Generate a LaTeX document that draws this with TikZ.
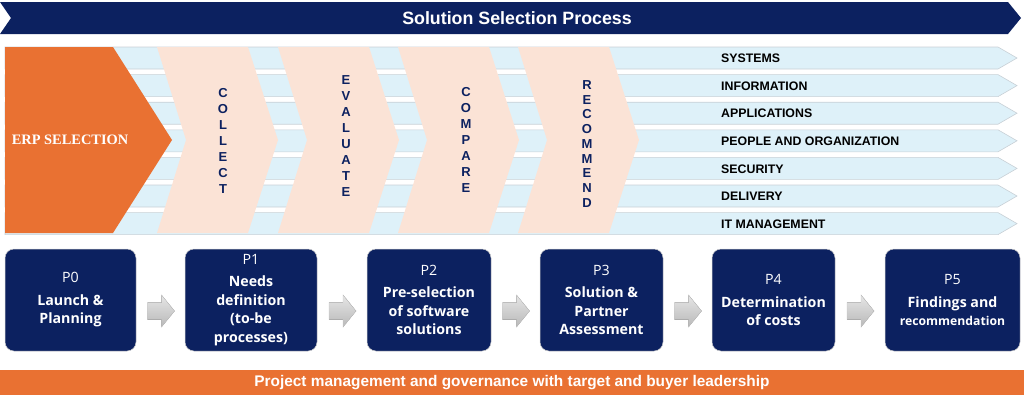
\documentclass[tikz,border=0pt]{standalone}
\usepackage{fontspec}
\setmainfont{Liberation Sans}
\newfontfamily\erpfont{Liberation Serif}
\newfontfamily\boxfont{Open Sans}
\usetikzlibrary{calc}
\definecolor{navy}{RGB}{12,33,96}
\definecolor{erporange}{RGB}{233,113,50}
\definecolor{peach}{RGB}{251,227,214}
\definecolor{stripblue}{RGB}{222,241,249}
\definecolor{stripline}{RGB}{200,208,214}
\tikzset{
  strip/.style={fill=stripblue, draw=stripline, line width=0.6pt},
  striplab/.style={anchor=west, inner sep=0pt, font=\fontsize{12.35}{14}\selectfont\bfseries, text=black},
  chev/.style={fill=peach},
  vword/.style={align=center, inner sep=0pt, text=navy, font=\fontsize{13}{16}\selectfont\bfseries},
  pbox/.style={fill=navy, draw=gray!40, line width=0.5pt, rounded corners=9pt, text=white, align=center,
    minimum height=102pt, inner sep=2pt, font=\boxfont\fontsize{14.2}{18.5}\selectfont},
  garrow/.pic={\fill[top color=gray!20, bottom color=gray!55, draw=gray!45, line width=0.4pt]
     (-13.5,-8.5) -- (0.5,-8.5) -- (0.5,-16) -- (13.5,0) -- (0.5,16) -- (0.5,8.5) -- (-13.5,8.5) -- cycle;}
}
\begin{document}
\begin{tikzpicture}[x=1pt,y=-1pt]
\useasboundingbox (0,0) rectangle (1024,402);
% title banner
\fill[navy] (0,2) -- (1008,2) -- (1021,18) -- (1008,34) -- (0,34) -- (11,18) -- cycle;
\node[text=white, font=\fontsize{17.8}{20}\selectfont\bfseries] (title) at (517,18) {Solution Selection Process};
% strips
\foreach \i/\lab in {0/SYSTEMS,1/INFORMATION,2/APPLICATIONS,3/PEOPLE AND ORGANIZATION,4/SECURITY,5/DELIVERY,6/IT MANAGEMENT}{
  \pgfmathsetmacro\yt{47+27.6*\i}
  \draw[strip] (5,\yt) -- (998,\yt) -- (1017,{\yt+11}) -- (998,{\yt+22}) -- (5,{\yt+22}) -- cycle;
  \node[striplab] (s\i) at (721,{\yt+11.5}) {\lab};
}
% ERP selection
\fill[erporange] (5,47) -- (113,47) -- (172,140) -- (113,233) -- (5,233) -- cycle;
\node[text=white, font=\erpfont\bfseries\fontsize{14.4}{18}\selectfont] (erp) at (70,140) {ERP SELECTION};
% chevrons
\foreach \x in {157,278,398,518}{
  \fill[chev] (\x,47) -- ({\x+91},47) -- ({\x+121},140) -- ({\x+91},233) -- (\x,233) -- ({\x+29},140) -- cycle;
}
\node[vword] (collect) at (223,140.5) {C\\O\\L\\L\\E\\C\\T};
\node[vword] (evaluate) at (346,136.5) {E\\V\\A\\L\\U\\A\\T\\E};
\node[vword] (compare) at (466,140) {C\\O\\M\\P\\A\\R\\E};
\node[vword, font=\fontsize{13}{14.75}\selectfont\bfseries] (recommend) at (587,144) {R\\E\\C\\O\\M\\M\\E\\N\\D};
% phase boxes
\node[pbox, minimum width=131pt] (p0) at (70.5,300) {P0\\[4pt]\textbf{Launch \&}\\\textbf{Planning}};
\node[pbox, minimum width=132pt] (p1) at (251,300) {P1\\[4pt]\textbf{Needs}\\\textbf{definition}\\\textbf{(to-be}\\\textbf{processes)}};
\node[pbox, minimum width=124pt] (p2) at (429,300) {P2\\[4pt]\textbf{Pre-selection}\\\textbf{of software}\\\textbf{solutions}};
\node[pbox, minimum width=123pt] (p3) at (601.5,300) {P3\\[4pt]\textbf{Solution \&}\\\textbf{Partner}\\\textbf{Assessment}};
\node[pbox, minimum width=123pt] (p4) at (773.5,300) {P4\\[4pt]\textbf{Determination}\\\textbf{of costs}};
\node[pbox, minimum width=135pt] (p5) at (952.5,300) {P5\\[4pt]\textbf{Findings and}\\{\fontsize{12.2}{18.5}\selectfont\textbf{recommendation}}};
% gray arrows
\foreach \a/\b in {p0/p1,p1/p2,p2/p3,p3/p4,p4/p5}{
  \coordinate (g\a) at ($(\a.east)!0.5!(\b.west)+(0.5,11)$);
  \pic at (g\a) {garrow};
}
% bottom bar
\node[fill=erporange, minimum width=1024pt, minimum height=25pt, inner sep=0pt, text=white,
  font=\fontsize{15.4}{16}\selectfont\bfseries] (pm) at (512,382.5)
  {Project management and governance with target and buyer leadership};
\end{tikzpicture}
\end{document}
